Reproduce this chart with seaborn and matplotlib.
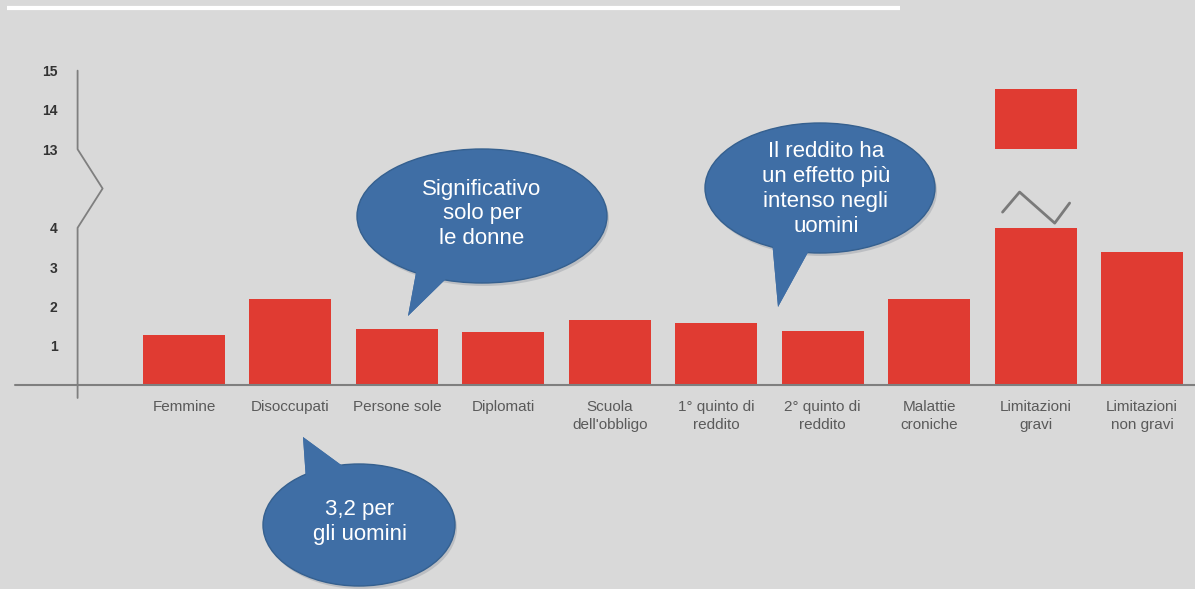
import numpy as np
import matplotlib
matplotlib.use("Agg")
import matplotlib.pyplot as plt
import seaborn as sns
from matplotlib.patches import Ellipse, Polygon

# DATA
categories = ["Femmine", "Disoccupati", "Persone sole", "Diplomati",
              "Scuola\ndell'obbligo", "1° quinto di\nreddito", "2° quinto di\nreddito",
              "Malattie\ncroniche", "Limitazioni\ngravi", "Limitazioni\nnon gravi"]
values = [1.27, 2.19, 1.42, 1.36, 1.65, 1.57, 1.38, 2.19, 14.53, 3.38]
y_ticks = [1, 2, 3, 4, 13, 14, 15]
break_low, break_high = 4, 13

bubble_texts = ["Significativo\nsolo per\nle donne",
                "Il reddito ha\nun effetto più\nintenso negli\nuomini",
                "3,2 per\ngli uomini"]

BG = "#d9d9d9"
RED = "#e03b32"
BLUE = "#3f6ea5"
GAP = 2.0  # the 4..13 range squeezed into 2 units


def fwd(v):
    v = np.asarray(v, float)
    return np.where(v <= break_low, v,
                    np.where(v >= break_high, v - (break_high - break_low) + GAP,
                             break_low + (v - break_low) * GAP / (break_high - break_low)))


def inv(d):
    d = np.asarray(d, float)
    return np.where(d <= break_low, d,
                    np.where(d >= break_low + GAP, d + (break_high - break_low) - GAP,
                             break_low + (d - break_low) * (break_high - break_low) / GAP))


sns.set_style("white", {"axes.facecolor": BG, "figure.facecolor": BG})
plt.rcParams["font.family"] = ["Liberation Sans", "DejaVu Sans"]

W, H = 1195, 589
fig = plt.figure(figsize=(W / 100, H / 100), dpi=100)
ax = fig.add_axes([15 / W, 1 - 385 / H, 1180 / W, 334 / H])

# bars (the tall one is cut at the break and continued above it)
lower = np.minimum(values, break_low)
sns.barplot(x=categories, y=lower, color=RED, saturation=1, width=0.77,
            linewidth=0, ax=ax)
upper_idx = [i for i, v in enumerate(values) if v > break_high]
ax.bar(upper_idx, [values[i] - break_high for i in upper_idx], bottom=break_high,
       width=0.77, color=RED, linewidth=0)

ax.set_yscale("function", functions=(fwd, inv))
ax.set_ylim(0, 15.5)
ax.set_xlim(-1.588, 9.498)
ax.set_yticks(y_ticks)
ax.set_yticklabels([str(t) for t in y_ticks])
ax.set_xlabel("")
ax.set_ylabel("")

for s in ["top", "right", "bottom"]:
    ax.spines[s].set_visible(False)
ax.spines["left"].set_position(("data", -1.0))
ax.spines["left"].set_color("none")

ax.axhline(0, color="#7f7f7f", lw=1.5, zorder=3, clip_on=False)

# y axis with break zigzag
mid = float(inv(break_low + GAP / 2))
ax.plot([-1, -1, -1 + 0.235, -1, -1], [-0.33, break_low, mid, break_high, 15],
        color="#7f7f7f", lw=1.3, clip_on=False, zorder=3)

# break mark above the cut bar
for i in upper_idx:
    zx = i + np.array([-0.31, -0.15, 0.18, 0.32])
    zy = inv(np.array([4.40, 4.91, 4.12, 4.63]))
    ax.plot(zx, zy, color="#7a7a7a", lw=2)

ax.tick_params(axis="y", direction="inout", length=7, width=1, color="#8a8a8a",
               pad=11, labelsize=10, labelcolor="#333333")
for lab in ax.get_yticklabels():
    lab.set_fontweight("bold")
ax.tick_params(axis="x", length=0, pad=11, labelsize=11, labelcolor="#5a5a5a")
for lab in ax.get_xticklabels():
    lab.set_linespacing(1.3)

# overlay in pixel coordinates for the speech bubbles
ov = fig.add_axes([0, 0, 1, 1], zorder=5)
ov.set_xlim(0, W)
ov.set_ylim(H, 0)
ov.axis("off")
ov.patch.set_alpha(0)

ov.plot([7, 900], [8, 8], color="white", lw=3, solid_capstyle="butt")

bubbles = [
    ((482, 216), 250, 134, [(418, 262), (408, 316), (455, 270)], (482, 214)),
    ((820, 188), 230, 130, [(772, 240), (778, 307), (812, 245)], (826, 189)),
    ((359, 525), 192, 122, [(306, 480), (303, 437), (348, 470)], (360, 522)),
]
for (c, w, h, tail, tc), txt in zip(bubbles, bubble_texts):
    ov.add_patch(Ellipse((c[0] + 2, c[1] + 3), w, h, color="#a9adb3", alpha=0.6, lw=0))
    ov.add_patch(Polygon(tail, closed=True, color=BLUE, lw=0))
    ov.add_patch(Ellipse(c, w, h, facecolor=BLUE, edgecolor="#35608f", lw=1))
    ov.add_patch(Polygon(tail, closed=True, color=BLUE, lw=0))
    ov.text(tc[0], tc[1], txt, color="white", fontsize=16, ha="center", va="center",
            linespacing=1.25)

fig.savefig("out.png", dpi=100, facecolor=BG)
